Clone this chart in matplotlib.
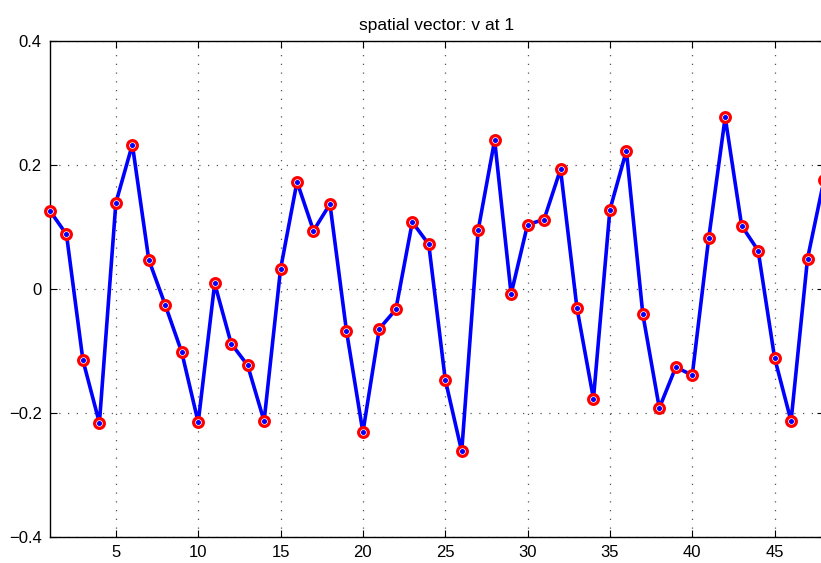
import numpy as np
import matplotlib.pyplot as plt

plt.rcParams['font.family'] = ['Liberation Sans', 'DejaVu Sans']

# component index and value of the spatial vector
idx = np.arange(1, 49)
v = [0.126, 0.088, -0.115, -0.216, 0.139, 0.233, 0.047, -0.026,
     -0.102, -0.215, 0.009, -0.088, -0.123, -0.213, 0.032, 0.173,
     0.094, 0.137, -0.067, -0.231, -0.064, -0.033, 0.108, 0.072,
     -0.146, -0.262, 0.095, 0.240, -0.008, 0.104, 0.112, 0.193,
     -0.031, -0.177, 0.128, 0.223, -0.041, -0.192, -0.126, -0.139,
     0.082, 0.277, 0.102, 0.062, -0.111, -0.213, 0.049, 0.176]

xticks = [5, 10, 15, 20, 25, 30, 35, 40, 45]
yticks = [-0.4, -0.2, 0, 0.2, 0.4]
yticklabels = ['\u22120.4', '\u22120.2', '0', '0.2', '0.4']

fig = plt.figure(figsize=(8.21, 5.63), dpi=100)
# axes run slightly past the right border of the figure
ax = fig.add_axes([50 / 821, 1 - 537 / 563, 774 / 821, 496 / 563])

ax.plot(idx, v, color='#0000ff', lw=2.6, zorder=3, clip_on=False)
ax.plot(idx, v, 'o', ms=7.0, mfc='white', mec='#ff0000', mew=2.3,
        zorder=4, clip_on=False)
ax.plot(idx, v, 'o', ms=2.6, color='#0000ff', zorder=5, clip_on=False)

ax.set_xlim(1, 48)
ax.set_ylim(-0.4, 0.4)
ax.set_xticks(xticks)
ax.set_yticks(yticks)
ax.set_yticklabels(yticklabels)
ax.tick_params(direction='in', length=5, width=0.8, top=True, right=True,
               labelsize=12, pad=6)
ax.grid(True, linestyle=(0, (1, 6)), color='#555555', lw=0.9)
for s in ax.spines.values():
    s.set_linewidth(1.0)

ax.set_title('spatial vector: v at 1', fontsize=12.5, pad=8)

fig.savefig('out.png', dpi=100)
